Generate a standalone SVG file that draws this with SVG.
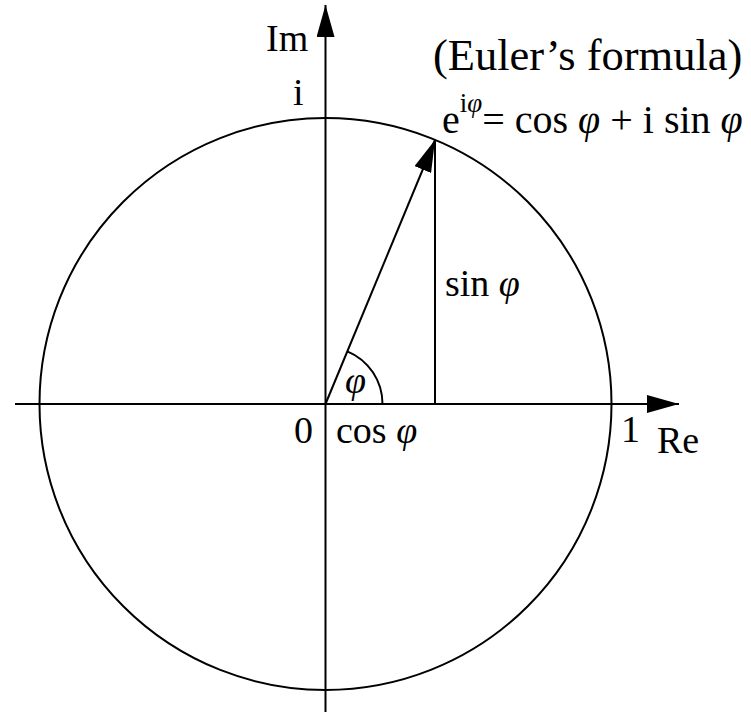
<svg xmlns="http://www.w3.org/2000/svg" width="751" height="712" viewBox="0 0 751 712">
<style>
.l{fill:none;stroke:#000;stroke-width:2}
text{font-family:"Liberation Serif","Times New Roman",serif;fill:#000}
.t{font-size:38px}
.it{font-style:italic}
</style>
<defs>
<marker id="ah" markerWidth="32" markerHeight="18" refX="32" refY="9" orient="auto" markerUnits="userSpaceOnUse">
<path d="M0,0 L32,9 L0,18 z" fill="#000"/>
</marker>
</defs>
<g id="circle"><circle class="l" cx="325.5" cy="404" r="286"/></g>
<g id="connectors">
<line class="l" x1="15" y1="404" x2="679" y2="404" marker-end="url(#ah)"/>
<line class="l" x1="325.5" y1="712" x2="325.5" y2="5" marker-end="url(#ah)"/>
<line class="l" x1="325.5" y1="404" x2="435" y2="140" marker-end="url(#ah)"/>
<line class="l" x1="435" y1="140" x2="435" y2="404"/>
<path class="l" d="M382.5,404 A57,57 0 0 0 347.3,351.3"/>
</g>
<g id="labels">
<text class="t" x="266" y="51">Im</text>
<text x="433" y="70" font-size="44.5">(Euler’s formula)</text>
<text class="t" x="293" y="105">i</text>
<text x="442" y="133" font-size="40">e<tspan dy="-21" font-size="27">i<tspan class="it">φ</tspan></tspan><tspan dy="21">= cos </tspan><tspan class="it">φ</tspan> + i sin <tspan class="it">φ</tspan></text>
<text class="t" x="445" y="296">sin <tspan class="it">φ</tspan></text>
<text class="t it" x="345" y="393">φ</text>
<text class="t" x="294" y="443">0</text>
<text class="t" x="336" y="443">cos <tspan class="it">φ</tspan></text>
<text class="t" x="621" y="442">1</text>
<text class="t" x="657" y="453">Re</text>
</g>
</svg>
